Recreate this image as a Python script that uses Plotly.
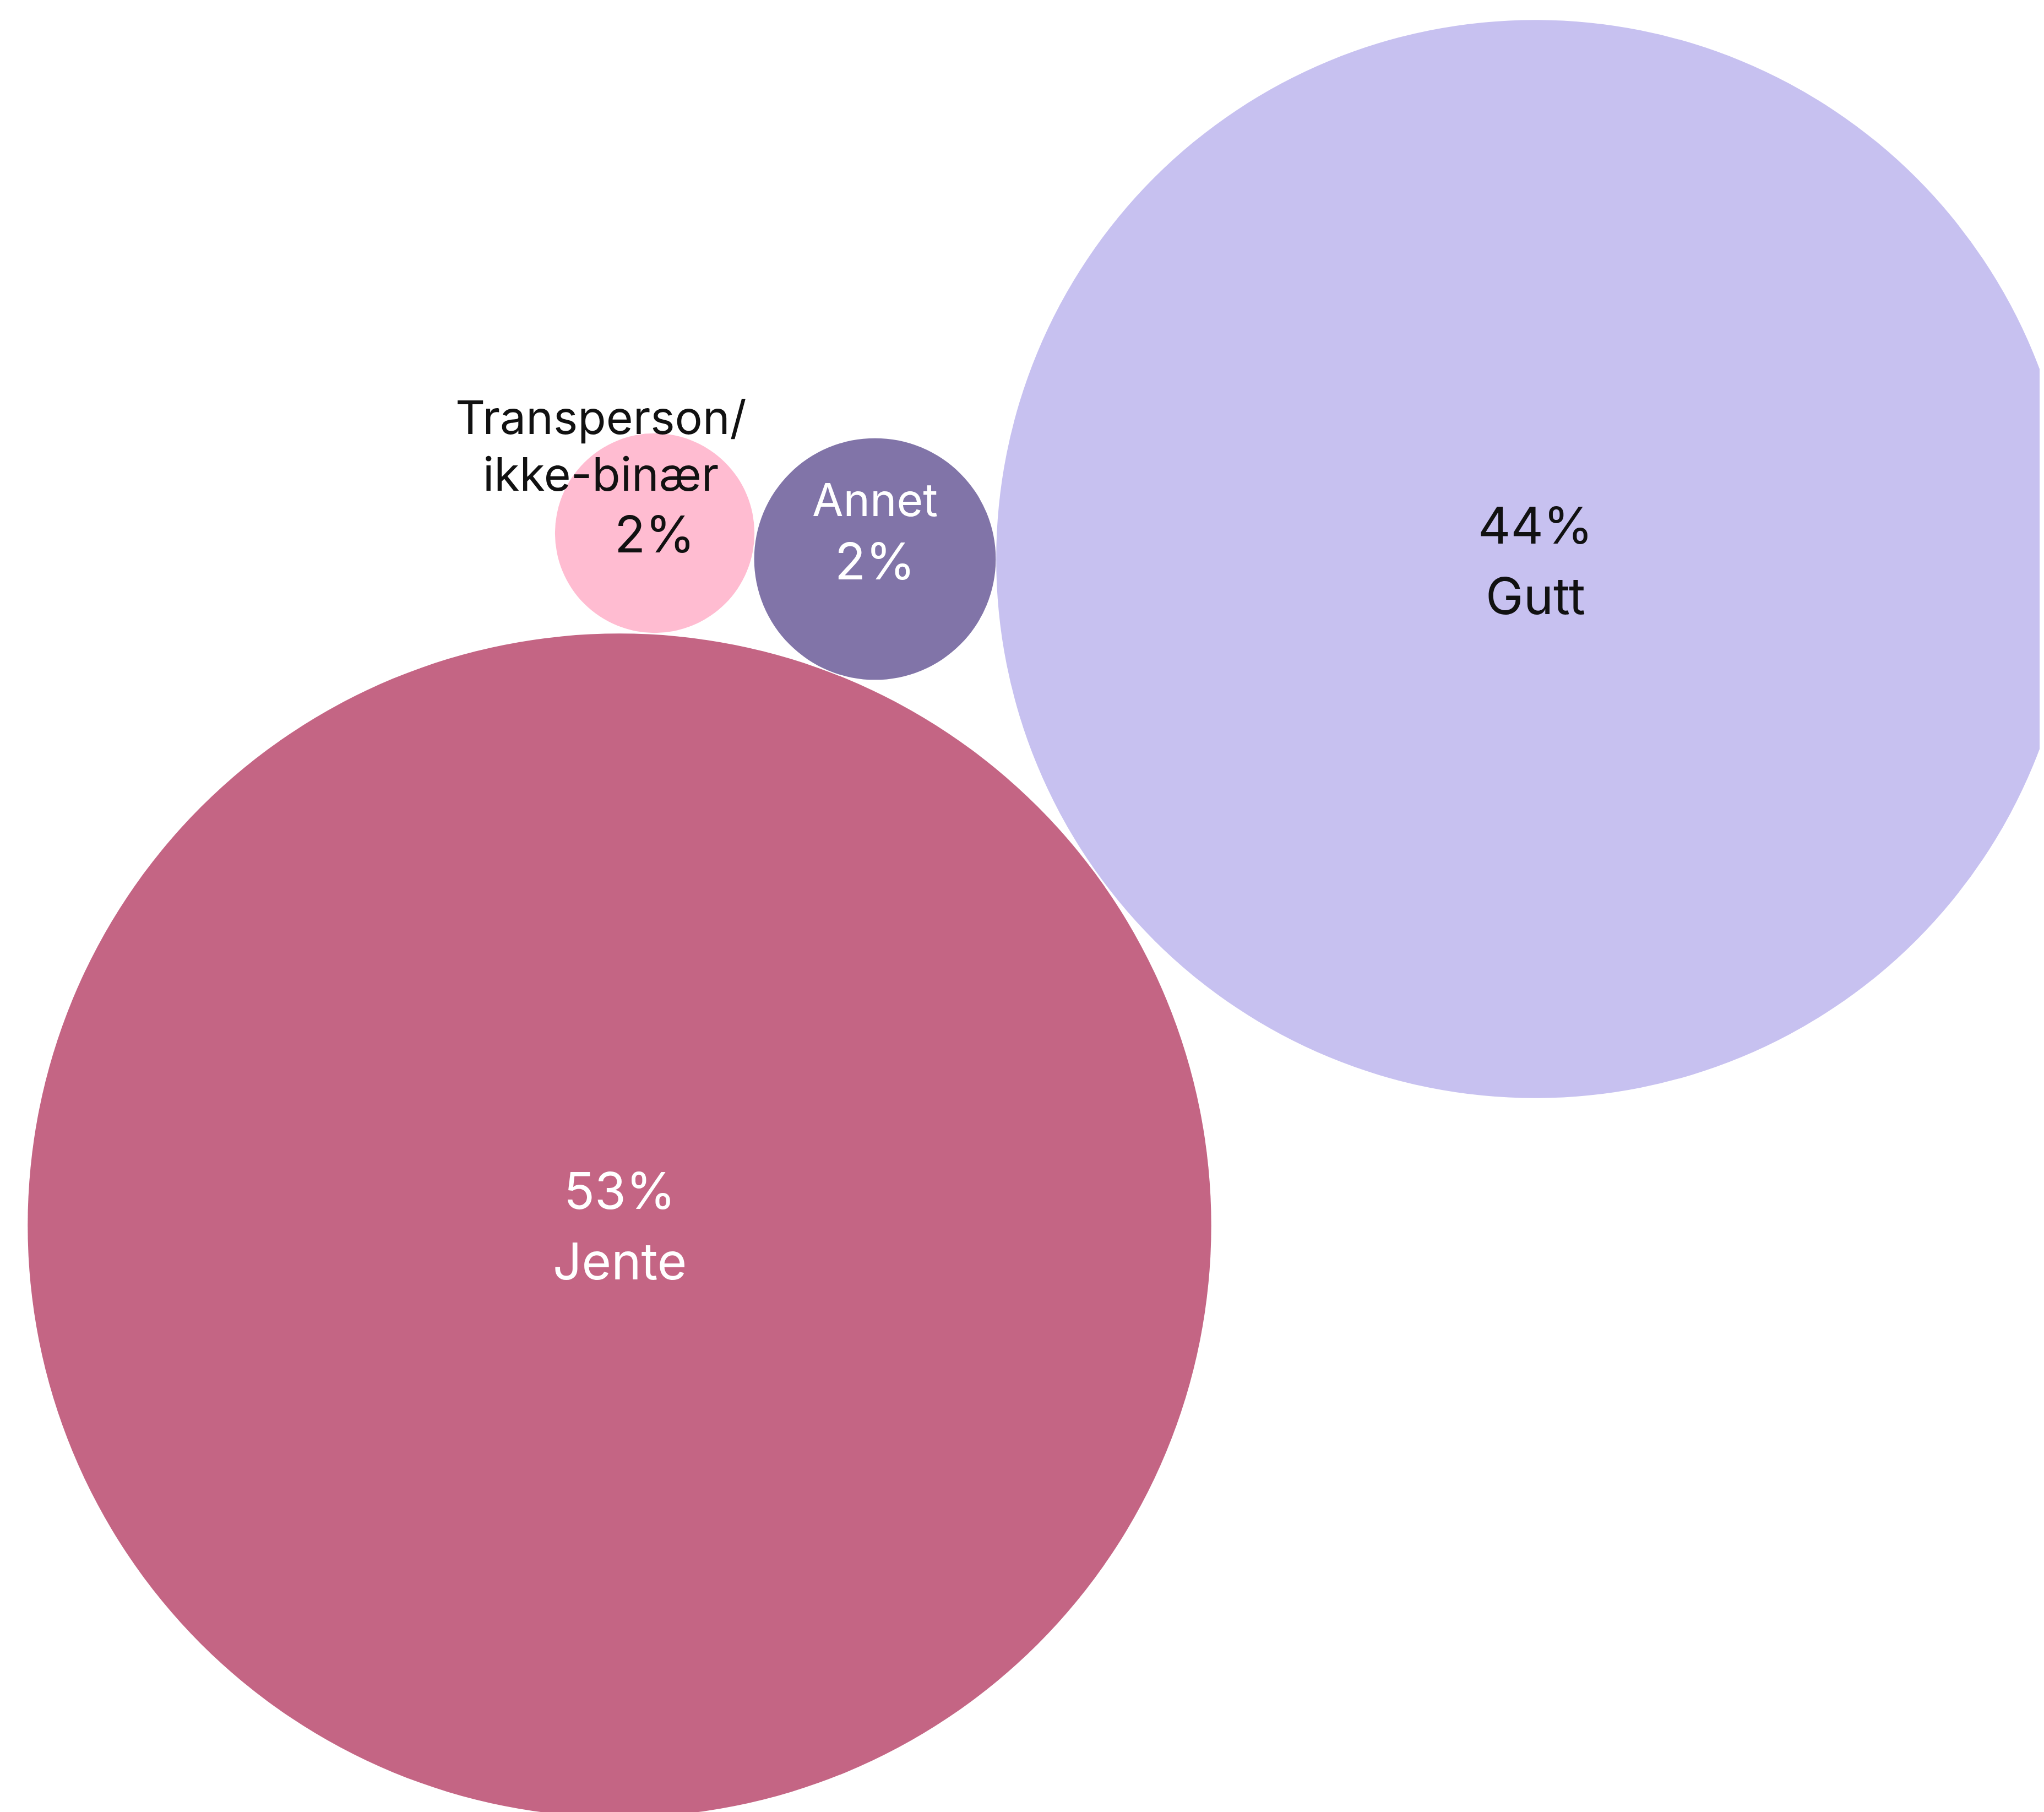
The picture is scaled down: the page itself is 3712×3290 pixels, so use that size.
import math
import plotly.graph_objects as go

# ---- data ----
categories = ["Jente", "Gutt", "Annet", "Transperson/ikke-binær"]
values = [52.8, 43.8, 2.2, 1.5]          # share of respondents (%)
colors = ["#C46584", "#C7C1F0", "#8174A8", "#FFBCD1"]
text_colors = ["#FFFFFF", "#111111", "#FFFFFF", "#111111"]

# ---- layout (packed bubble positions, in page pixels) ----
W, H = 3712, 3290
centers_x = [1117, 2780, 1581, 1181]
centers_y = [2217, 1007, 1007, 960]
K = 147.9  # radius px per sqrt(%)

diam = [2 * K * math.sqrt(v) for v in values]

fig = go.Figure()
for i, cat in enumerate(categories):
    fig.add_trace(go.Scatter(
        x=[centers_x[i]], y=[centers_y[i]], mode="markers",
        marker=dict(size=diam[i], sizemode="diameter", color=colors[i],
                    opacity=1, line=dict(width=0)),
        name=cat, hoverinfo="text", hovertext=f"{cat}: {values[i]}%",
        showlegend=False,
    ))

def pct(v):
    return f"{int(v + 0.5)}%"

FONT = "Inter, Roboto, sans-serif"
ann = []
def add(text, x, y, size, color):
    ann.append(dict(text=text, x=x, y=y, xref="x", yref="y", showarrow=False,
                    xanchor="center", yanchor="middle",
                    font=dict(family=FONT, size=size, color=color)))

# Jente
add(pct(values[0]), centers_x[0], centers_y[0] - 64, 92, text_colors[0])
add(categories[0], centers_x[0], centers_y[0] + 64, 92, text_colors[0])
# Gutt
add(pct(values[1]), centers_x[1], centers_y[1] - 62, 92, text_colors[1])
add(categories[1], centers_x[1], centers_y[1] + 66, 92, text_colors[1])
# Annet
add(categories[2], centers_x[2], centers_y[2] - 108, 82, text_colors[2])
add(pct(values[2]), centers_x[2], centers_y[2] + 3, 92, text_colors[2])
# Transperson/ikke-binær
add("Transperson/", centers_x[3] - 98, centers_y[3] - 211, 84, text_colors[3])
add("ikke-binær", centers_x[3] - 98, centers_y[3] - 108, 84, text_colors[3])
add(pct(values[3]), centers_x[3], centers_y[3] + 1, 92, text_colors[3])

fig.update_layout(
    width=W, height=H,
    margin=dict(l=0, r=0, t=0, b=0),
    paper_bgcolor="#FFFFFF", plot_bgcolor="#FFFFFF",
    xaxis=dict(range=[0, W], visible=False, fixedrange=True),
    yaxis=dict(range=[H, 0], visible=False, fixedrange=True),
    annotations=ann,
)

fig.write_html("out.html")
